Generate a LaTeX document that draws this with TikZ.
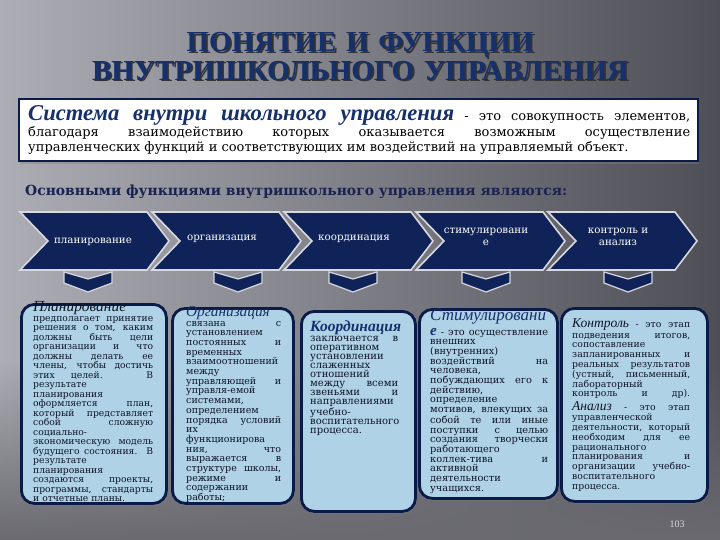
\documentclass[tikz,border=0pt]{standalone}
\usepackage{fontspec}
\setmainfont{DejaVu Serif}
\newfontfamily\ttlfont{Liberation Serif}
\usetikzlibrary{shadows,fadings}
\definecolor{navy}{HTML}{0F2359}
\definecolor{navyedge}{HTML}{0B1B48}
\definecolor{boxfill}{HTML}{B0D2E6}
\definecolor{ttlblue}{HTML}{16306C}
\definecolor{bgL}{HTML}{ADADB5}
\definecolor{bgR}{HTML}{4E4E56}
\definecolor{bgB}{HTML}{6A6A70}
\definecolor{chevedge}{HTML}{D8D8DE}
\definecolor{txt}{HTML}{0E1426}
\definecolor{subttl}{HTML}{1A2350}
\definecolor{pgnum}{HTML}{D6D6DC}
\hbadness=10000
\hfuzz=4pt
\tolerance=9999
\lineskiplimit=-30pt
\newcommand\bttl[2]{{\ttlfont\fontsize{#1}{9}\selectfont\itshape\color{ttlblue}#2}}
\newcommand\shadowed[1]{\makebox[0pt][l]{\hspace{1.8pt}\raisebox{-1.8pt}{\textcolor{black!80}{#1}}}#1}
\tikzset{
  chevshape/.style={fill=navy, draw=chevedge, line width=1.6pt, line join=miter},
  downarr/.style={fill=navy, draw=chevedge, line width=1.2pt, line join=miter},
  fbox/.style={anchor=north west, inner sep=0pt, fill=boxfill, draw=navyedge, line width=2.8pt, rounded corners=13pt,
     drop shadow={opacity=0.35, shadow xshift=1.5pt, shadow yshift=-2.5pt}},
  chevtext/.style={text=white, font=\fontsize{10.3}{12}\selectfont, align=center, inner sep=0pt},
  boxtext/.style={anchor=base west, inner sep=0pt, align=justify, text=txt},
  ttlstyle/.style={font=\ttlfont\bfseries\fontsize{29}{26}\selectfont, anchor=base, inner sep=0pt, text=ttlblue,
     text width=640, align=center},
}
\begin{document}
\begin{tikzpicture}[x=1pt,y=-1pt]
\useasboundingbox (0,0) rectangle (720,540);
\shade[left color=bgL, right color=bgR] (0,0) rectangle (720,540);
\fill[bgB, path fading=north] (0,360) rectangle (720,540);

% title
\node[ttlstyle] (title) at (360,52) {\shadowed{ПОНЯТИЕ И ФУНКЦИИ}\\\shadowed{ВНУТРИШКОЛЬНОГО УПРАВЛЕНИЯ}};

% definition
\node[anchor=north west, inner sep=0pt, minimum width=679, minimum height=62, fill=white, draw=navyedge, line width=1.6pt,
  drop shadow={opacity=0.4, shadow xshift=1.5pt, shadow yshift=-3pt}] (def) at (18,98) {};
\node[anchor=base west, text width=662, align=justify, inner sep=0pt, font=\fontsize{13}{15.5}\selectfont] (deft) at (28,121)
 {{\ttlfont\fontsize{22.6}{15.5}\selectfont\bfseries\itshape\color{ttlblue}Система внутри школьного управления} - это совокупность элементов,\linebreak
 благодаря взаимодействию которых оказывается возможным осуществление\linebreak
 управленческих функций и соответствующих им воздействий на управляемый объект.};

\node[anchor=base west, inner sep=0pt, font=\bfseries\fontsize{13.9}{16}\selectfont, text=subttl] (sub) at (25,196)
 {Основными функциями внутришкольного управления являются:};

% chevrons
\foreach \L in {20,152,284,416,548}{
  \draw[chevshape] (\L,212) -- ++(127,0) -- ++(22,29) -- ++(-22,29) -- ++(-127,0) -- ++(28,-29) -- cycle;
}
\node[chevtext] (c1) at (93,242) {планирование};
\node[chevtext] (c2) at (222,239) {организация};
\node[chevtext] (c3) at (354,239) {координация};
\node[chevtext] (c4) at (486,237) {стимулировани\\е};
\node[chevtext] (c5) at (618,237) {контроль и\\анализ};

% down arrows
\foreach \c in {88,238,353,486,628}{
  \draw[downarr] (\c-24,272) -- (\c,279) -- (\c+24,272) -- (\c+24,283) -- (\c,292) -- (\c-24,283) -- cycle;
}

% boxes
\node[fbox, minimum width=145, minimum height=199] (b1) at (20,303) {};
\node[fbox, minimum width=121, minimum height=195] (b2) at (171,307) {};
\node[fbox, minimum width=114, minimum height=200] (b3) at (300,310) {};
\node[fbox, minimum width=138, minimum height=189] (b4) at (418,308) {};
\node[fbox, minimum width=146, minimum height=193] (b5) at (560,307) {};

\node[boxtext, text width=120, font=\fontsize{9.2}{9.5}\selectfont] (x1) at (33,311) {%
\bttl{15.4}{\color{txt}Планирование}\\[0.5pt]
предполагает принятие\linebreak
решения о том, каким\linebreak
должны быть цели\linebreak
организации и что\linebreak
должны делать ее\linebreak
члены, чтобы достичь\linebreak
этих целей. В\linebreak
результате\linebreak
планирования\linebreak
оформляется план,\linebreak
который представляет\linebreak
собой сложную\linebreak
социально-\linebreak
экономическую модель\linebreak
будущего состояния. В\linebreak
результате\linebreak
планирования\linebreak
создаются проекты,\linebreak
программы, стандарты\linebreak
и отчетные планы.};

\node[boxtext, text width=95, font=\fontsize{9.5}{9.7}\selectfont] (x2) at (186,316) {%
\bttl{15.3}{Организация}\\[0.3pt]
связана с\linebreak
установлением\linebreak
постоянных и\linebreak
временных\linebreak
взаимоотношений\linebreak
между\linebreak
управляющей и\linebreak
управля-емой\linebreak
системами,\linebreak
определением\linebreak
порядка условий\linebreak
их\linebreak
функционирова\linebreak
ния, что\linebreak
выражается в\linebreak
структуре школы,\linebreak
режиме и\linebreak
содержании\linebreak
работы;};

\node[boxtext, text width=88, font=\fontsize{10}{9.1}\selectfont] (x3) at (310,331) {%
\bttl{15.5}{\bfseries Координация}\\[0.9pt]
заключается в\linebreak
оперативном\linebreak
установлении\linebreak
слаженных\linebreak
отношений\linebreak
между всеми\linebreak
звеньями и\linebreak
направлениями\linebreak
учебно-\linebreak
воспитательного\linebreak
процесса.};

\node[boxtext, text width=118, font=\fontsize{9.8}{9.7}\selectfont] (x4) at (430,320) {%
\bttl{17}{Стимулировани}\\[3.3pt]
\bttl{15}{\bfseries е} - это осуществление\linebreak
внешних\linebreak
(внутренних)\linebreak
воздействий на\linebreak
человека,\linebreak
побуждающих его к\linebreak
действию,\linebreak
определение\linebreak
мотивов, влекущих за\linebreak
собой те или иные\linebreak
поступки с целью\linebreak
создания творчески\linebreak
работающего\linebreak
коллек-тива и\linebreak
активной\linebreak
деятельности\linebreak
учащихся.};

\node[boxtext, text width=118, font=\fontsize{9.3}{9.8}\selectfont] (x5) at (572,327) {%
\bttl{13.5}{\color{txt}Контроль} - это этап\vspace{1.2pt}\linebreak
подведения итогов,\linebreak
сопоставление\linebreak
запланированных и\linebreak
реальных результатов\linebreak
(устный, письменный,\linebreak
лабораторный\linebreak
контроль и др).\vspace{2.2pt}\linebreak
\bttl{13.5}{\color{txt}Анализ} - это этап\linebreak
управленческой\linebreak
деятельности, который\linebreak
необходим для ее\linebreak
рационального\linebreak
планирования и\linebreak
организации учебно-\linebreak
воспитательного\linebreak
процесса.};

\node[text=pgnum, font=\ttlfont\fontsize{10}{12}\selectfont, anchor=base, inner sep=0pt] (pg) at (677,527) {103};
\end{tikzpicture}
\end{document}
